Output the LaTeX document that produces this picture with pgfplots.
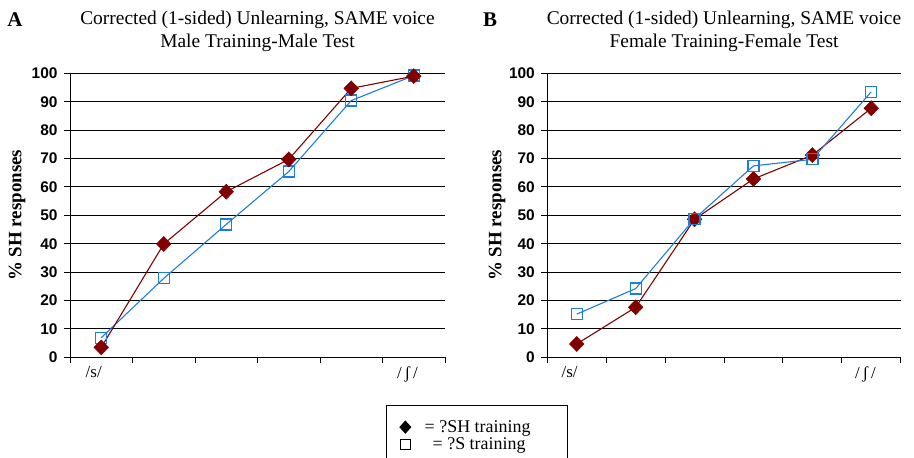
\documentclass[border=0pt]{standalone}
\usepackage{fontspec}
\setmainfont{Liberation Serif}
\newfontfamily\arial{Liberation Sans}
\usepackage{pgfplots}
\pgfplotsset{compat=1.18}

\definecolor{shred}{RGB}{128,0,0}
\definecolor{sblue}{RGB}{30,125,220}

\pgfplotsset{
  panel/.style={
    scale only axis,
    height=284bp,
    xmin=0, xmax=6,
    ymin=0, ymax=100,
    axis x line*=bottom,
    axis y line*=left,
    axis line style={-, black, line width=0.9pt},
    xtick={0,...,6},
    xticklabels={},
    extra x ticks={0.38,5.4},
    extra x tick labels={/s/, /\,ʃ\,/},
    extra x tick style={major tick length=0pt, tick label style={yshift=-6bp, font=\fontsize{17}{17}\selectfont}},
    ytick={0,10,...,100},
    tick align=outside,
    major tick length=6bp,
    tick style={black, line width=0.9pt},
    yticklabel style={font=\arial\bfseries\fontsize{15.5}{15.5}\selectfont, xshift=-3bp, /pgf/number format/assume math mode=true},
    ymajorgrids=true,
    grid style={black, line width=0.9pt},
    clip=false,
    title style={font=\fontsize{19.5}{23}\selectfont, align=center, at={(0.5,1)}, anchor=south, yshift=12bp},
    ylabel={\% SH responses},
    ylabel style={font=\bfseries\fontsize{19}{19}\selectfont, anchor=center},
  },
  sh/.style={shred, line width=1.1pt, mark=diamond*, mark size=7.5bp, mark options={xscale=1.3, fill=shred, draw=shred, line width=0.5pt}},
  ss/.style={sblue, line width=1.1pt, mark=square, mark size=5.5bp, mark options={fill=none, draw=sblue, line width=1.3pt}},
}

\begin{document}
\begin{tikzpicture}
\useasboundingbox (0,0) rectangle (914bp,458bp);

\node[font=\bfseries\fontsize{21}{21}\selectfont] at (15bp,438bp) {A};
\node[font=\bfseries\fontsize{21}{21}\selectfont] at (490bp,438bp) {B};

% panel A
\begin{axis}[panel,
  at={(70bp,100.7bp)}, anchor=south west,
  width=375bp,
  title={Corrected (1-sided) Unlearning, SAME voice\\Male Training-Male Test},
  ylabel style={at={(axis description cs:-0.141,0.5)}},
  legend style={at={(axis description cs:0.844,-0.168)}, anchor=north west,
    draw=black, line width=0.9pt, font=\fontsize{18}{18}\selectfont,
    legend cell align=left, inner xsep=13bp, inner ysep=13bp, row sep=0bp},
]
\addlegendimage{only marks, mark=diamond*, mark size=6bp, mark options={xscale=1.2, fill=black, draw=black}}
\addlegendimage{only marks, mark=square, mark size=5bp, mark options={draw=black, line width=1.2pt}}
\addplot[ss, forget plot] coordinates {
  (0.5,6.9) (1.5,27.8) (2.5,46.8) (3.5,65.4) (4.5,90.4) (5.5,99.2)
};
\addplot[sh, forget plot] coordinates {
  (0.5,3.5) (1.5,39.9) (2.5,58.3) (3.5,69.7) (4.5,94.7) (5.5,99.0)
};
\legend{\makebox[140bp][l]{\hspace{12bp}= ?SH training}, \makebox[140bp][l]{\hspace{20bp}= ?S training}}
\end{axis}

% panel B
\begin{axis}[panel,
  at={(547.3bp,100.7bp)}, anchor=south west,
  width=353.4bp,
  title={Corrected (1-sided) Unlearning, SAME voice\\Female Training-Female Test},
  ylabel style={at={(axis description cs:-0.142,0.5)}},
]
\addplot[sh] coordinates {
  (0.5,4.7) (1.5,17.6) (2.5,48.6) (3.5,62.8) (4.5,71.2) (5.5,87.7)
};
\addplot[ss] coordinates {
  (0.5,15.2) (1.5,24.2) (2.5,48.8) (3.5,67.4) (4.5,69.7) (5.5,93.5)
};
\end{axis}
\end{tikzpicture}
\end{document}
